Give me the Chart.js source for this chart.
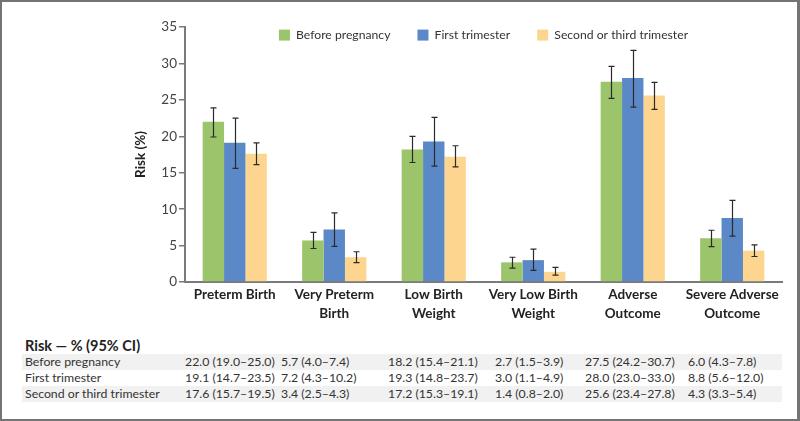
<!DOCTYPE html>
<html>
<head>
<meta charset="utf-8">
<script src="https://cdn.jsdelivr.net/npm/chart.js@4.4.1/dist/chart.umd.min.js"></script>
<style>
  body { margin: 0; background: #fff; font-family: Lato, sans-serif; }
  #wrap { position: relative; width: 800px; height: 421px; overflow: hidden; }
  #frame { position: absolute; left: 0; top: 0; width: 800px; height: 421px; box-sizing: border-box;
           border: 2px solid #747474; border-right-width: 3px; pointer-events: none; }
  canvas { position: absolute; left: 0; top: 0; }
  #tblHead { position: absolute; left: 25px; top: 337px; font-size: 14.5px; font-weight: bold; color: #222; }
  #tbl { position: absolute; left: 22px; top: 354px; width: 760px; font-size: 12.3px; color: #333; }
  .row { display: grid; grid-template-columns: 163px 96px 107px 107px 90px 103px 94px; height: 16px; line-height: 16px; white-space: nowrap; }
  .row.shade { background: #f1f1f1; }
  .row div:first-child { padding-left: 3px; }
</style>
</head>
<body>
<div id="wrap">
  <canvas id="chart" width="800" height="330"></canvas>
  <div id="tblHead">Risk — % (95% CI)</div>
  <div id="tbl"></div>
  <div id="frame"></div>
</div>
<script>
const categories = [
  'Preterm Birth',
  ['Very Preterm', 'Birth'],
  ['Low Birth', 'Weight'],
  ['Very Low Birth', 'Weight'],
  ['Adverse', 'Outcome'],
  ['Severe Adverse', 'Outcome']
];
const seriesNames = ['Before pregnancy', 'First trimester', 'Second or third trimester'];
const yTicks = [0, 5, 10, 15, 20, 25, 30, 35];

// risk values (%)
const beforeRisk = [22.0, 5.7, 18.2, 2.7, 27.5, 6.0];
const firstRisk  = [19.1, 7.2, 19.3, 3.0, 28.0, 8.8];
const secondRisk = [17.6, 3.4, 17.2, 1.4, 25.6, 4.3];

// 95% CI as printed in the table
const beforeCiLow  = [19.0, 4.0, 15.4, 1.5, 24.2, 4.3];
const beforeCiHigh = [25.0, 7.4, 21.1, 3.9, 30.7, 7.8];
const firstCiLow   = [14.7, 4.3, 14.8, 1.1, 23.0, 5.6];
const firstCiHigh  = [23.5, 10.2, 23.7, 4.9, 33.0, 12.0];
const secondCiLow  = [15.7, 2.5, 15.3, 0.8, 23.4, 3.3];
const secondCiHigh = [19.5, 4.3, 19.1, 2.0, 27.8, 5.4];

// error bar ends as drawn in the figure
const beforeErrLow  = [19.9, 4.6, 16.4, 1.9, 25.2, 4.85];
const beforeErrHigh = [23.9, 6.8, 20.0, 3.4, 29.6, 7.1];
const firstErrLow   = [15.6, 4.9, 15.9, 1.6, 24.0, 6.3];
const firstErrHigh  = [22.5, 9.5, 22.6, 4.5, 31.8, 11.2];
const secondErrLow  = [16.1, 2.65, 15.8, 0.95, 23.7, 3.5];
const secondErrHigh = [19.1, 4.15, 18.7, 2.0, 27.4, 5.1];

const errorBars = {
  id: 'errorBars',
  afterDatasetsDraw(chart) {
    const ctx = chart.ctx;
    const y = chart.scales.y;
    ctx.save();
    ctx.strokeStyle = '#2b2b2b';
    ctx.lineWidth = 1.2;
    chart.data.datasets.forEach((ds, di) => {
      chart.getDatasetMeta(di).data.forEach((bar, i) => {
        const x = Math.round(bar.x) + 0.5;
        const top = y.getPixelForValue(ds.errHigh[i]);
        const bot = y.getPixelForValue(ds.errLow[i]);
        ctx.beginPath();
        ctx.moveTo(x, top); ctx.lineTo(x, bot);
        ctx.moveTo(x - 3, top); ctx.lineTo(x + 3, top);
        ctx.moveTo(x - 3, bot); ctx.lineTo(x + 3, bot);
        ctx.stroke();
      });
    });
    ctx.restore();
  }
};

// legend takes no layout room; draw it over the top of the plot area
const legendInside = {
  id: 'legendInside',
  beforeDraw(chart) {
    const lg = chart.legend;
    lg.top = chart.chartArea.top - lg.options.labels.padding + 2;
    lg.height = 50;
    lg.bottom = lg.top + lg.height;
  }
};

new Chart(document.getElementById('chart'), {
  type: 'bar',
  data: {
    labels: categories,
    datasets: [
      { label: seriesNames[0], data: beforeRisk, backgroundColor: '#9cc46b', errLow: beforeErrLow, errHigh: beforeErrHigh },
      { label: seriesNames[1], data: firstRisk, backgroundColor: '#5b88c6', errLow: firstErrLow, errHigh: firstErrHigh },
      { label: seriesNames[2], data: secondRisk, backgroundColor: '#fdd58f', errLow: secondErrLow, errHigh: secondErrHigh }
    ]
  },
  plugins: [errorBars, legendInside],
  options: {
    responsive: false,
    animation: false,
    devicePixelRatio: 1,
    layout: { padding: { left: 130, right: 18, top: 26, bottom: 0 } },
    datasets: { bar: { categoryPercentage: 0.645, barPercentage: 1.0 } },
    plugins: {
      legend: {
        position: 'top',
        fullSize: false,
        align: 'center',
        maxHeight: 1,
        labels: {
          font: { family: 'Lato', size: 12.2 },
          color: '#333',
          boxWidth: 11,
          boxHeight: 11,
          padding: 27
        }
      },
      tooltip: { enabled: false }
    },
    scales: {
      x: {
        grid: { display: false, drawTicks: false },
        border: { color: '#7a7a7a', width: 2 },
        ticks: {
          font: { family: 'Lato', size: 13.5, weight: 'bold', lineHeight: 1.35 },
          color: '#222',
          padding: 4,
          maxRotation: 0,
          autoSkip: false
        },
        afterFit(scale) { scale.height = 48; }
      },
      y: {
        min: 0,
        max: 35,
        afterBuildTicks(scale) { scale.ticks = yTicks.map(v => ({ value: v })); },
        grid: { drawOnChartArea: false, drawTicks: true, tickLength: 6, color: '#7a7a7a', lineWidth: 1.5 },
        border: { color: '#7a7a7a', width: 2 },
        ticks: {
          font: { family: 'Lato', size: 13.5 },
          color: '#444',
          padding: 2
        },
        title: {
          display: true,
          text: 'Risk (%)',
          font: { family: 'Lato', size: 13.5, weight: 'bold' },
          color: '#222',
          padding: { top: 3, bottom: 0 }
        },
        afterFit(scale) { scale.width = 55; }
      }
    }
  }
});

// table under the chart, built from the same arrays
const fmt = (v, lo, hi) => `${v.toFixed(1)} (${lo.toFixed(1)}–${hi.toFixed(1)})`;
const tableRows = [
  [seriesNames[0], beforeRisk, beforeCiLow, beforeCiHigh],
  [seriesNames[1], firstRisk, firstCiLow, firstCiHigh],
  [seriesNames[2], secondRisk, secondCiLow, secondCiHigh]
];
const tbl = document.getElementById('tbl');
tableRows.forEach((r, ri) => {
  const row = document.createElement('div');
  row.className = 'row' + (ri % 2 === 0 ? ' shade' : '');
  const cells = [r[0]].concat(r[1].map((v, i) => fmt(v, r[2][i], r[3][i])));
  cells.forEach(t => {
    const c = document.createElement('div');
    c.textContent = t;
    row.appendChild(c);
  });
  tbl.appendChild(row);
});
</script>
</body>
</html>
